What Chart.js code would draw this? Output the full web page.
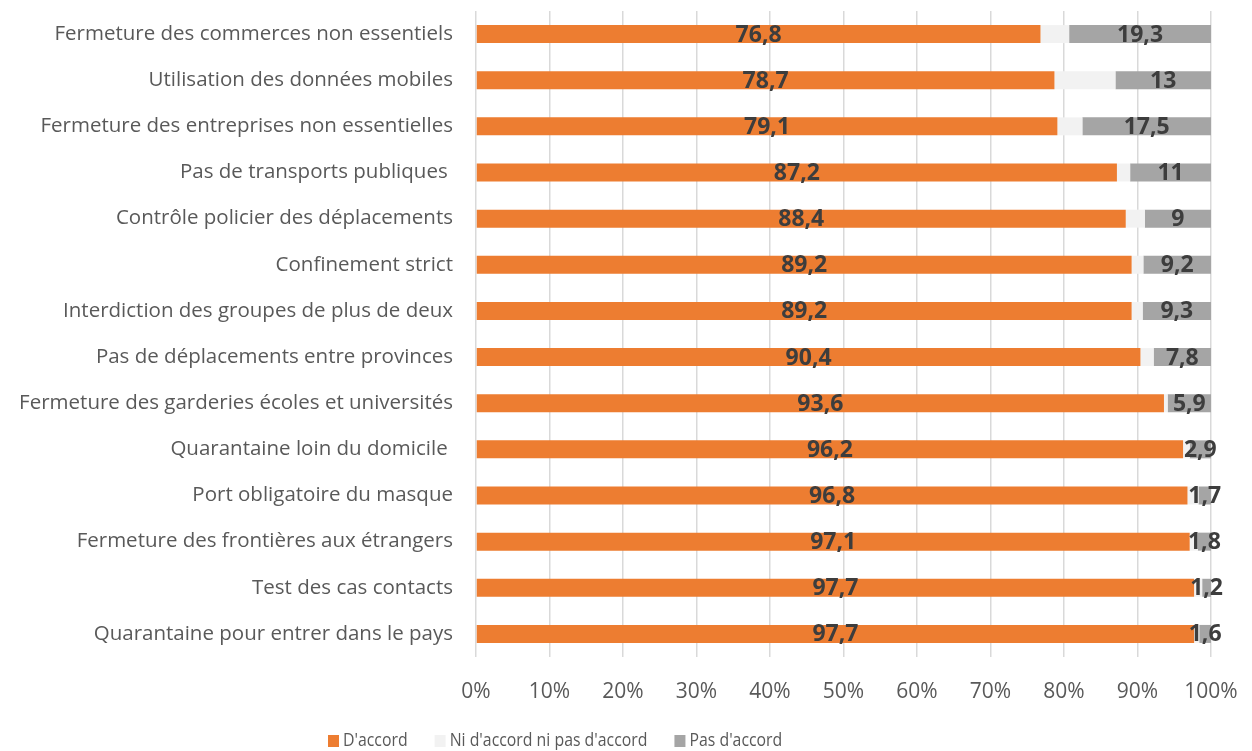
<!DOCTYPE html>
<html>
<head>
<meta charset="utf-8">
<script src="https://cdn.jsdelivr.net/npm/chart.js@4"></script>
<style>
  html, body { margin: 0; padding: 0; background: #fff; }
  #wrap { width: 1252px; height: 751px; }
</style>
</head>
<body>
<div id="wrap"><canvas id="chart" width="1252" height="751"></canvas></div>
<script>
const categories = [
    "Fermeture des commerces non essentiels",
    "Utilisation des données mobiles",
    "Fermeture des entreprises non essentielles",
    "Pas de transports publiques ",
    "Contrôle policier des déplacements",
    "Confinement strict",
    "Interdiction des groupes de plus de deux",
    "Pas de déplacements entre provinces",
    "Fermeture des garderies écoles et universités",
    "Quarantaine loin du domicile ",
    "Port obligatoire du masque",
    "Fermeture des frontières aux étrangers",
    "Test des cas contacts",
    "Quarantaine pour entrer dans le pays"
];
const agree = [76.8, 78.7, 79.1, 87.2, 88.4, 89.2, 89.2, 90.4, 93.6, 96.2, 96.8, 97.1, 97.7, 97.7];
const neutral = [3.9, 8.3, 3.4, 1.8, 2.6, 1.6, 1.5, 1.8, 0.5, 0.9, 1.5, 1.1, 1.1, 0.7];
const disagree = [19.3, 13, 17.5, 11, 9, 9.2, 9.3, 7.8, 5.9, 2.9, 1.7, 1.8, 1.2, 1.6];
const seriesNames = ["D'accord", "Ni d'accord ni pas d'accord", "Pas d'accord"];

const FONT = "'Open Sans', 'Noto Sans', sans-serif";

// draws the bold values inside the orange and dark grey bars
const barLabels = {
    id: 'barLabels',
    afterDatasetsDraw(chart) {
        const ctx = chart.ctx;
        ctx.save();
        ctx.font = "bold 23px " + FONT;
        ctx.fillStyle = '#3d3d3d';
        ctx.textAlign = 'center';
        ctx.textBaseline = 'middle';
        [0, 2].forEach(di => {
            const meta = chart.getDatasetMeta(di);
            meta.data.forEach((bar, i) => {
                const v = chart.data.datasets[di].data[i];
                const x = (bar.x + bar.base) / 2;
                ctx.fillText(String(v).replace('.', ','), x, bar.y + 1);
            });
        });
        ctx.restore();
    }
};

// legend drawn by hand so it sits a bit left of centre like the original
const bottomLegend = {
    id: 'bottomLegend',
    afterDraw(chart) {
        const ctx = chart.ctx;
        const squeeze = 0.88; // narrower glyphs, closer to the original font
        ctx.save();
        ctx.font = "18px " + FONT;
        ctx.textBaseline = 'middle';
        ctx.textAlign = 'left';
        let x = 328;
        const y = 741;
        chart.data.datasets.forEach(ds => {
            ctx.fillStyle = ds.backgroundColor;
            ctx.fillRect(x, y - 6, 11, 12);
            ctx.fillStyle = '#595959';
            ctx.save();
            ctx.translate(x + 15, y);
            ctx.scale(squeeze, 1);
            ctx.fillText(ds.label, 0, 0);
            ctx.restore();
            x += 15 + ctx.measureText(ds.label).width * squeeze + 27;
        });
        ctx.restore();
    }
};

const ctx = document.getElementById('chart').getContext('2d');
new Chart(ctx, {
    type: 'bar',
    data: {
        labels: categories,
        datasets: [
            { label: seriesNames[0], data: agree, backgroundColor: '#ED7D31' },
            { label: seriesNames[1], data: neutral, backgroundColor: '#F2F2F2' },
            { label: seriesNames[2], data: disagree, backgroundColor: '#A5A5A5' }
        ]
    },
    options: {
        indexAxis: 'y',
        responsive: false,
        animation: false,
        datasets: { bar: { categoryPercentage: 1, barPercentage: 0.39, borderWidth: 0 } },
        layout: { padding: { top: 11, right: 41, left: 0, bottom: 0 } },
        scales: {
            x: {
                stacked: true,
                min: 0,
                max: 100,
                afterFit: scale => {
                    scale.height = 94;
                    scale.paddingRight = 0;
                    scale.paddingLeft = 0;
                },
                ticks: {
                    stepSize: 10,
                    color: '#595959',
                    font: { family: FONT, size: 21 },
                    padding: 22,
                    callback: v => v + '%'
                },
                grid: { color: '#D9D9D9', lineWidth: 1.5, drawTicks: false },
                border: { display: false }
            },
            y: {
                stacked: true,
                afterFit: scale => {
                    scale.width = 476;
                    scale.paddingTop = 0;
                    scale.paddingBottom = 0;
                },
                ticks: {
                    color: '#595959',
                    font: { family: FONT, size: 20.5 },
                    padding: 15
                },
                grid: { display: false },
                border: { display: false }
            }
        },
        plugins: {
            legend: { display: false },
            tooltip: { enabled: false }
        }
    },
    plugins: [barLabels, bottomLegend]
});
</script>
</body>
</html>
